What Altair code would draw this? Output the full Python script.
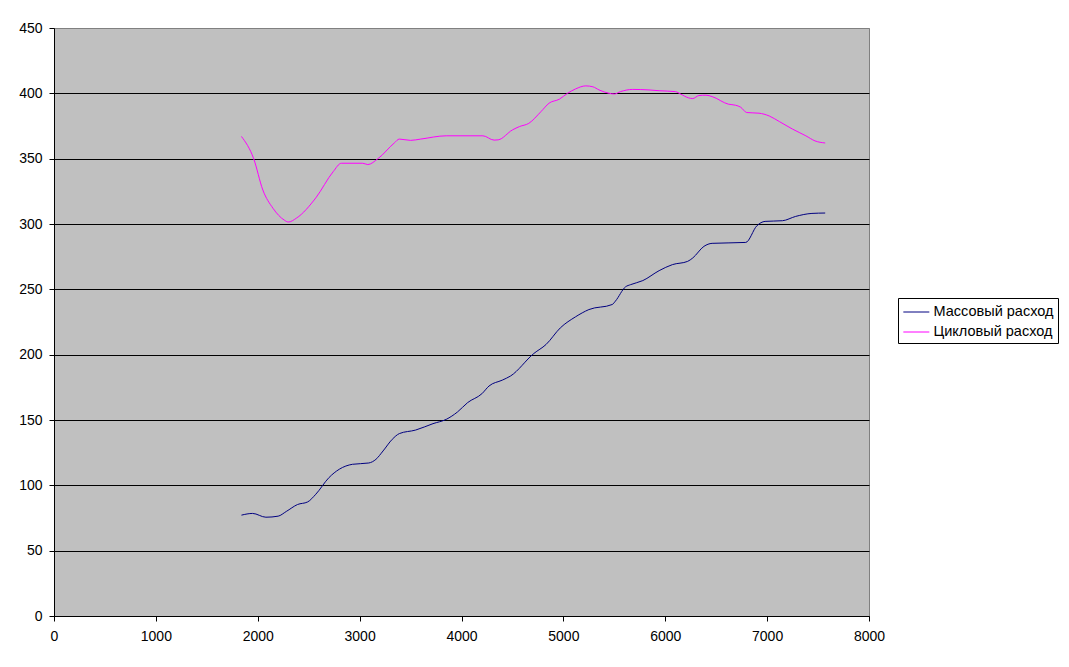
import altair as alt
import pandas as pd

# Массовый расход (blue)
rpm_mass = [1840, 1950, 2080, 2200, 2280, 2390, 2490, 2570, 2700, 2800, 2930, 3090, 3160, 3230,
            3320, 3390, 3550, 3720, 3850, 3960, 4060, 4200, 4270, 4400, 4480, 4710, 4830, 4970,
            5120, 5250, 5480, 5510, 5610, 5660, 5780, 5940, 6070, 6220, 6270, 6380, 6460, 6790,
            6900, 6980, 7150, 7280, 7440, 7570]
mass = [77.2, 78.5, 75.6, 76.4, 80.0, 85.3, 87.3, 93.2, 106.0, 112.3, 116.1, 117.1, 119.9, 126.3,
        135.2, 139.6, 142.3, 147.2, 150.5, 156.1, 163.3, 170.1, 176.0, 180.5, 183.6, 200.9, 207.8, 220.5,
        229.0, 234.5, 238.4, 240.9, 251.9, 253.6, 256.7, 264.3, 268.9, 271.4, 274.0, 282.9, 285.2, 285.9,
        298.7, 302.0, 302.5, 305.8, 308.1, 308.4]

# Цикловый расход (magenta)
rpm_cycle = [1840, 1960, 2050, 2150, 2260, 2300, 2380, 2570, 2740, 2820, 3030, 3080, 3180, 3340,
             3390, 3500, 3600, 3850, 4210, 4320, 4360, 4500, 4570, 4660, 4780, 4860, 4960, 5040,
             5120, 5220, 5290, 5350, 5450, 5500, 5560, 5680, 5840, 5940, 6100, 6150, 6230, 6270,
             6330, 6400, 6460, 6620, 6690, 6740, 6800, 6920, 7020, 7120, 7250, 7380, 7470, 7570]
cycle = [367.0, 350.0, 326.0, 312.0, 303.0, 301.5, 304.5, 320.0, 340.0, 346.5, 346.5, 345.5, 350.0, 362.0,
         365.0, 364.0, 365.0, 367.5, 367.5, 364.2, 364.4, 372.0, 374.6, 377.0, 386.0, 392.5, 395.5, 400.0,
         403.4, 405.7, 405.0, 402.6, 400.0, 399.5, 401.3, 403.0, 402.6, 402.0, 401.3, 399.5, 396.5, 396.0,
         398.3, 398.6, 397.5, 391.7, 390.9, 389.4, 385.3, 384.8, 382.7, 378.4, 372.6, 367.5, 363.6, 362.0]

series_names = ["Массовый расход", "Цикловый расход"]
series_colors = ["#000080", "#FF00FF"]
x_ticks = [0, 1000, 2000, 3000, 4000, 5000, 6000, 7000, 8000]
y_ticks = [0, 50, 100, 150, 200, 250, 300, 350, 400, 450]

df = pd.concat([
    pd.DataFrame({"rpm": rpm_mass, "value": mass, "series": series_names[0]}),
    pd.DataFrame({"rpm": rpm_cycle, "value": cycle, "series": series_names[1]}),
])

FONT = "Liberation Sans"

chart = alt.Chart(df).mark_line(strokeWidth=1, interpolate="monotone").encode(
    x=alt.X("rpm:Q",
            scale=alt.Scale(domain=[0, 8000], nice=False, zero=False),
            axis=alt.Axis(values=x_ticks, format="d", title=None, grid=False, domainColor="black",
                          tickColor="black", tickSize=5, labelPadding=8, labelFont=FONT,
                          labelFontSize=14, labelColor="black", labelFlush=False,
                          labelOverlap=False)),
    y=alt.Y("value:Q",
            scale=alt.Scale(domain=[0, 450], nice=False),
            axis=alt.Axis(values=y_ticks, format="d", title=None, grid=True,
                          gridColor={"condition": {"test": "datum.value === 450", "value": "#808080"},
                                     "value": "black"},
                          gridOpacity=1, gridWidth=1,
                          domainColor="black", tickColor="black", tickSize=5, labelPadding=7,
                          labelFont=FONT, labelFontSize=14, labelColor="black", labelFlush=False,
                          labelOverlap=False)),
    color=alt.Color("series:N",
                    scale=alt.Scale(domain=series_names, range=series_colors),
                    legend=alt.Legend(title=None, orient="none", legendX=844, legendY=270,
                                      symbolType="M-1,0H2", symbolSize=300,
                                      symbolStrokeWidth=1, labelFont=FONT, labelFontSize=14.5,
                                      labelColor="black", labelOffset=12, rowPadding=4,
                                      padding=4.5, strokeColor="black", fillColor="white",
                                      labelLimit=300)),
).properties(
    width=815, height=588,
    autosize=alt.AutoSizeParams(type="none"),
    padding={"left": 46, "top": 20, "right": 192, "bottom": 35},
).configure(
    background="white",
).configure_view(
    fill="#C0C0C0", stroke="#808080", strokeWidth=1,
)

chart.save("out.html", embed_options={"renderer": "svg", "actions": False})
